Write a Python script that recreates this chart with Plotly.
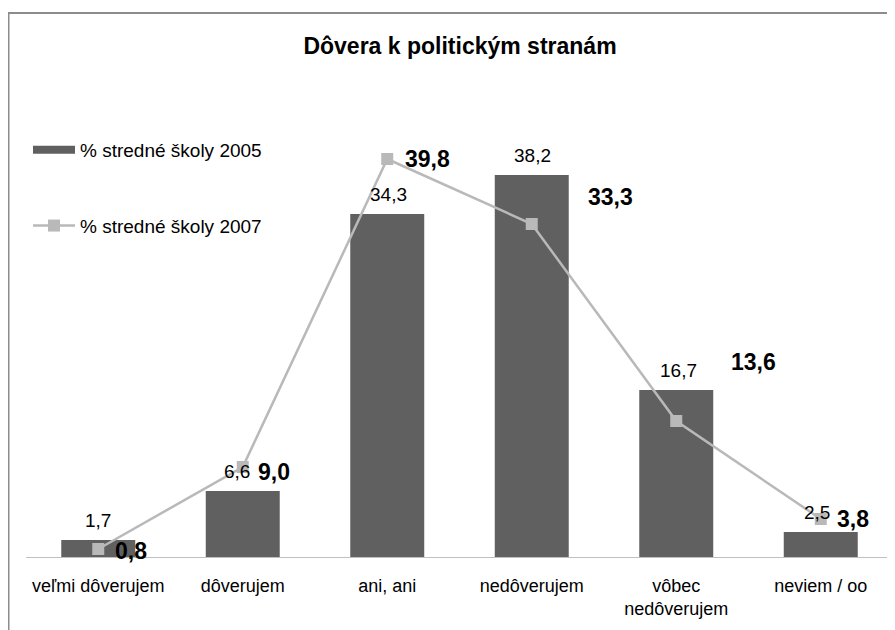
import plotly.graph_objects as go

categories = ["veľmi dôverujem", "dôverujem", "ani, ani", "nedôverujem", "vôbec<br>nedôverujem", "neviem / oo"]
values_2005 = [1.7, 6.6, 34.3, 38.2, 16.7, 2.5]
values_2007 = [0.8, 9.0, 39.8, 33.3, 13.6, 3.8]
labels_2005 = ["1,7", "6,6", "34,3", "38,2", "16,7", "2,5"]
labels_2007 = ["0,8", "9,0", "39,8", "33,3", "13,6", "3,8"]
name_2005 = "% stredné školy 2005"
name_2007 = "% stredné školy 2007"
title = "Dôvera k politickým stranám"

# label offsets (pixels) — styling only
bar_xshift = [0, -6, 1, 1, 2, -4]
line_shift = [(33, -2), (31, -5), (40, 0), (79, 27), (77, 59), (32, 0)]

FONT = "Liberation Sans, Arial, sans-serif"
BAR_C = "#606060"
LINE_C = "#b9b9b9"

# page body has an 8px margin; layout values below are in figure pixels
L, R, T, B = 18, 10, 99, 81
PW, PH = 895 - L - R, 630 - T - B

fig = go.Figure()
fig.add_trace(go.Bar(
    x=categories, y=values_2005, name=name_2005,
    marker=dict(color=BAR_C, line=dict(width=0)),
    legendgroup="a", showlegend=False,
))
# legend swatch for the bars (wide flat rectangle like the reference)
fig.add_trace(go.Scatter(
    x=[None], y=[None], name=name_2005, mode="lines",
    line=dict(color=BAR_C, width=8),
    legendgroup="a", showlegend=True, hoverinfo="skip",
))
fig.add_trace(go.Scatter(
    x=categories, y=values_2007, name=name_2007, mode="lines+markers",
    line=dict(color=LINE_C, width=2.5),
    marker=dict(symbol="square", size=12, color=LINE_C),
    legendgroup="b",
))

annotations = []
for c, v, t, xs in zip(categories, values_2005, labels_2005, bar_xshift):
    annotations.append(dict(x=c, y=v, xref="x", yref="y", text=t, showarrow=False,
                            xanchor="center", yanchor="middle", yshift=20, xshift=xs,
                            font=dict(family=FONT, size=19, color="#000")))
for c, v, t, (xs, ys) in zip(categories, values_2007, labels_2007, line_shift):
    annotations.append(dict(x=c, y=v, xref="x", yref="y", text="<b>" + t + "</b>", showarrow=False,
                            xanchor="center", yanchor="middle", xshift=xs, yshift=ys,
                            font=dict(family=FONT, size=23, color="#000")))

fig.update_layout(
    width=895, height=630,
    margin=dict(l=L, r=R, t=T, b=B, autoexpand=False),
    paper_bgcolor="white", plot_bgcolor="white",
    font=dict(family=FONT, size=18, color="#000"),
    title=dict(text="<b>" + title + "</b>", x=0.5006, xref="paper", xanchor="center",
               y=1 - 38 / 630, yref="container", yanchor="middle",
               font=dict(family=FONT, size=23, color="#000")),
    bargap=0.488,
    showlegend=True,
    legend=dict(x=2 / PW, y=(T + PH - 123) / PH, xanchor="left", yanchor="top",
                bgcolor="rgba(0,0,0,0)", font=dict(family=FONT, size=19, color="#000"),
                tracegroupgap=48, traceorder="grouped", itemwidth=42),
    annotations=annotations,
    xaxis=dict(showline=True, linecolor="#c0c0c0", linewidth=1, showgrid=False,
               ticks="", ticklabelstandoff=12, automargin=False,
               tickfont=dict(family=FONT, size=18, color="#000"),
               zeroline=False),
    yaxis=dict(range=[0, 45], visible=False, showgrid=False, zeroline=False, automargin=False),
    shapes=[dict(type="rect", xref="paper", yref="paper",
                 x0=(0.5 - L) / PW, x1=1.1, y0=-0.3, y1=(T + PH - 5) / PH,
                 line=dict(color="#8c8c8c", width=2), fillcolor="rgba(0,0,0,0)", layer="below")],
)

fig.write_html("out.html")
